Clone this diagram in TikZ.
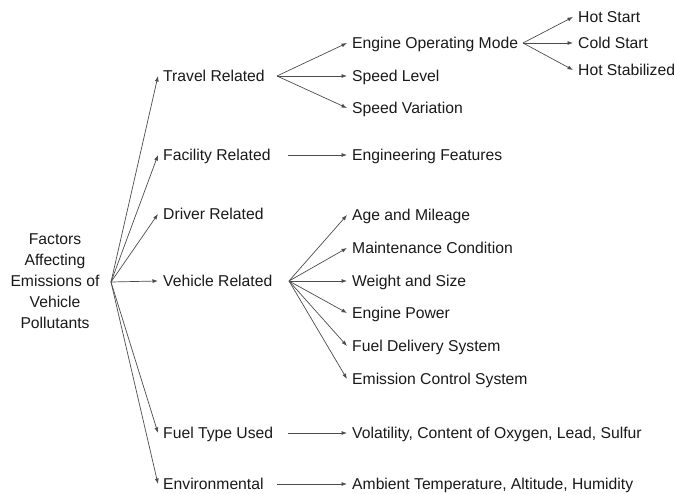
\documentclass[tikz,border=0pt]{standalone}
\usepackage{fontspec}
\setmainfont{Liberation Sans}
\usetikzlibrary{arrows.meta}
\tikzset{
    lbl/.style={anchor=west, inner xsep=5pt, inner ysep=1pt, text height=11pt, text depth=0pt,
        text=black!90, font=\fontsize{15.7}{21}\selectfont},
    root/.style={align=center, inner sep=0pt, text=black!90, font=\fontsize{15.7}{21}\selectfont},
    arr/.style={draw=black!70, line width=0.7pt, -{Latex[length=5.5pt,width=4pt]}}
}

\begin{document}
\begin{tikzpicture}[x=1pt,y=-1pt]
    \useasboundingbox (0,0) rectangle (675,494);
    % root
    \node[root] (root) at (55,281) {Factors\\Affecting\\Emissions of\\Vehicle\\Pollutants};
    \coordinate (rootfork) at (111,282);
    % first level
    \node[lbl] (travel) at (158,76) {Travel Related};
    \node[lbl] (facility) at (158,155) {Facility Related};
    \node[lbl] (driver) at (158,214) {Driver Related};
    \node[lbl] (vehicle) at (158,281) {Vehicle Related};
    \node[lbl] (fuel) at (158,433) {Fuel Type Used};
    \node[lbl] (env) at (158,484) {Environmental};
    \foreach \n in {travel,facility,driver,vehicle,fuel,env}
        \draw[arr] (rootfork) -- (\n.west);
    % travel related
    \coordinate (travelfork) at (277,76);
    \node[lbl] (eom) at (347,43) {Engine Operating Mode};
    \node[lbl] (speedlvl) at (347,76) {Speed Level};
    \node[lbl] (speedvar) at (347,108) {Speed Variation};
    \foreach \n in {eom,speedlvl,speedvar}
        \draw[arr] (travelfork) -- (\n.west);
    \coordinate (eomfork) at (523,43);
    \node[lbl] (hot) at (573,17) {Hot Start};
    \node[lbl] (cold) at (573,43) {Cold Start};
    \node[lbl] (stab) at (573,70) {Hot Stabilized};
    \foreach \n in {hot,cold,stab}
        \draw[arr] (eomfork) -- (\n.west);
    % facility related
    \coordinate (facfork) at (288,155);
    \node[lbl] (eng) at (347,155) {Engineering Features};
    \draw[arr] (facfork) -- (eng.west);
    % vehicle related
    \coordinate (vehfork) at (289,281);
    \node[lbl] (age) at (347,215) {Age and Mileage};
    \node[lbl] (maint) at (347,248) {Maintenance Condition};
    \node[lbl] (weight) at (347,281) {Weight and Size};
    \node[lbl] (power) at (347,313) {Engine Power};
    \node[lbl] (delivery) at (347,346) {Fuel Delivery System};
    \node[lbl] (control) at (347,379) {Emission Control System};
    \foreach \n in {age,maint,weight,power,delivery,control}
        \draw[arr] (vehfork) -- (\n.west);
    % fuel and environment
    \coordinate (fuelfork) at (288,433);
    \node[lbl] (volat) at (347,433) {Volatility, Content of Oxygen, Lead, Sulfur};
    \draw[arr] (fuelfork) -- (volat.west);
    \coordinate (envfork) at (277,484);
    \node[lbl] (ambient) at (347,484) {Ambient Temperature, Altitude, Humidity};
    \draw[arr] (envfork) -- (ambient.west);
\end{tikzpicture}
\end{document}
